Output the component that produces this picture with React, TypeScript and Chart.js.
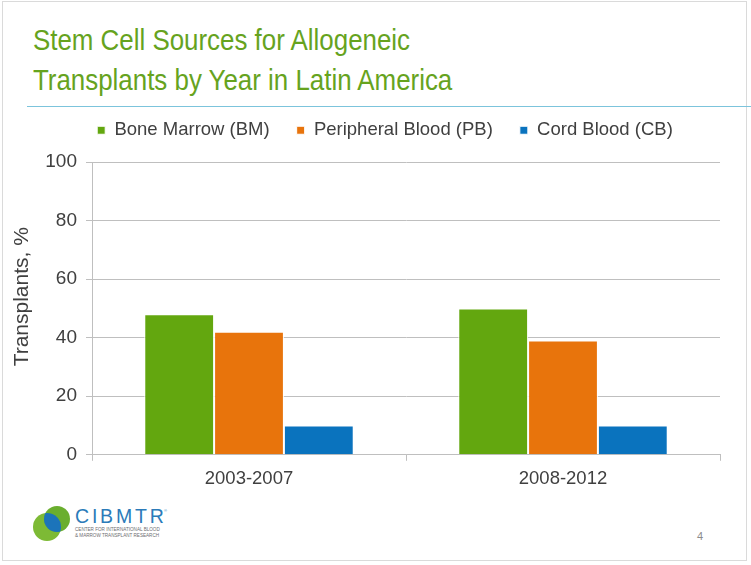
import React, { useEffect, useRef } from "react";
import { Chart, registerables } from "chart.js";

Chart.register(...registerables);

const titleLines = ["Stem Cell Sources for Allogeneic", "Transplants by Year in Latin America"];
const categories = ["2003-2007", "2008-2012"];
const seriesNames = ["Bone Marrow (BM)", "Peripheral Blood (PB)", "Cord Blood (CB)"];
const boneMarrow = [48, 50];
const peripheralBlood = [42, 39];
const cordBlood = [10, 10];
const seriesColors = ["#63A70F", "#E8740C", "#0A73BE"];
const yAxisTitle = "Transplants, %";
const yMin = 0;
const yMax = 100;
const yStep = 20;
const pageNumber = "4";

const FONT = "'Liberation Sans', Arial, Helvetica, sans-serif";
const TEXT = "#404040";
const GRID = "#BFBFBF";

const legendShift = {
  id: "legendShift",
  afterLayout(chart: any) {
    const l = chart.legend;
    if (l) {
      l.left += 22;
      l.right += 22;
    }
  },
};

export default function App() {
  const ref = useRef<HTMLCanvasElement | null>(null);

  useEffect(() => {
    document.body.style.margin = "0";
    const canvas = ref.current;
    if (!canvas) return;
    Chart.defaults.font.family = FONT;
    const chart = new Chart(canvas, {
      type: "bar",
      data: {
        labels: categories,
        datasets: [boneMarrow, peripheralBlood, cordBlood].map((d, i) => ({
          label: seriesNames[i],
          data: d,
          backgroundColor: seriesColors[i],
          borderColor: "#ffffff",
          borderWidth: 1,
          borderSkipped: "bottom",
          categoryPercentage: 0.667,
          barPercentage: 1,
        })),
      },
      plugins: [legendShift],
      options: {
        responsive: false,
        animation: false,
        layout: { padding: { top: 0, right: 46, bottom: 0, left: 0 } },
        plugins: {
          legend: {
            position: "top",
            labels: {
              boxWidth: 8,
              boxHeight: 8,
              padding: 27,
              color: TEXT,
              font: { size: 18.5, family: FONT },
            },
          },
          subtitle: {
            display: true,
            text: "",
            position: "top",
            weight: 500,
            font: { size: 1, lineHeight: 1 },
            padding: { top: 0, bottom: 11.5 },
          },
          tooltip: { enabled: false },
        },
        scales: {
          x: {
            offset: true,
            grid: {
              offset: true,
              drawOnChartArea: false,
              drawTicks: true,
              tickLength: 6,
              color: GRID,
            },
            border: { color: GRID, width: 1 },
            ticks: { color: TEXT, font: { size: 18.5, family: FONT }, padding: 7 },
          },
          y: {
            min: yMin,
            max: yMax,
            grid: { color: GRID, tickLength: 6, drawTicks: true },
            border: { color: GRID, width: 1 },
            ticks: { stepSize: yStep, color: TEXT, font: { size: 19, family: FONT }, padding: 9 },
            title: {
              display: true,
              text: "    " + yAxisTitle,
              color: TEXT,
              font: { size: 21, family: FONT },
              padding: { top: 4, bottom: 4 },
            },
            afterFit: (scale: any) => {
              scale.width = 86;
            },
          },
        },
      },
    });
    return () => chart.destroy();
  }, []);

  return (
    <div
      style={{
        position: "fixed",
        left: 0,
        top: 0,
        width: 751,
        height: 565,
        overflow: "hidden",
        background: "#ffffff",
        fontFamily: FONT,
      }}
    >
      <div
        style={{
          position: "absolute",
          left: 2,
          top: 1,
          width: 745,
          height: 560,
          border: "1px solid #DADADA",
          boxSizing: "border-box",
        }}
      />
      <div
        style={{
          position: "absolute",
          left: 33,
          top: 20,
          fontSize: 30,
          lineHeight: "40px",
          color: "#66A31E",
          whiteSpace: "nowrap",
          transform: "scaleX(0.863)",
          transformOrigin: "left top",
        }}
      >
        {titleLines.map((t) => (
          <div key={t}>{t}</div>
        ))}
      </div>
      <div
        style={{
          position: "absolute",
          left: 27,
          top: 106,
          width: 724,
          height: 1,
          background: "#7CC4DC",
        }}
      />
      <canvas
        ref={ref}
        width={760}
        height={403}
        style={{ position: "absolute", left: 6, top: 94, width: 760, height: 403 }}
      />
      <svg
        style={{ position: "absolute", left: 28, top: 498 }}
        width={160}
        height={46}
        viewBox="0 0 160 46"
      >
        <defs>
          <clipPath id="cl">
            <circle cx={29} cy={21} r={13} />
          </clipPath>
        </defs>
        <circle cx={19} cy={29} r={14} fill="#7DBA35" />
        <circle cx={29} cy={21} r={13} fill="#6AAE2E" />
        <circle cx={19} cy={29} r={14} fill="#1C74BA" clipPath="url(#cl)" />
        <text x={47} y={25} fontSize={19.5} fill="#2B7BB9" fontFamily={FONT} letterSpacing={2.8}>
          CIBMTR
        </text>
        <text x={136} y={14} fontSize={4} fill="#2B7BB9" fontFamily={FONT}>
          ®
        </text>
        <text x={47} y={33} fontSize={4.6} fill="#6D6E71" fontFamily={FONT}>
          CENTER FOR INTERNATIONAL BLOOD
        </text>
        <text x={47} y={39} fontSize={4.6} fill="#6D6E71" fontFamily={FONT}>
          &amp; MARROW TRANSPLANT RESEARCH
        </text>
      </svg>
      <div
        style={{
          position: "absolute",
          left: 697,
          top: 530,
          fontSize: 11,
          color: "#8C8C8C",
        }}
      >
        {pageNumber}
      </div>
    </div>
  );
}
